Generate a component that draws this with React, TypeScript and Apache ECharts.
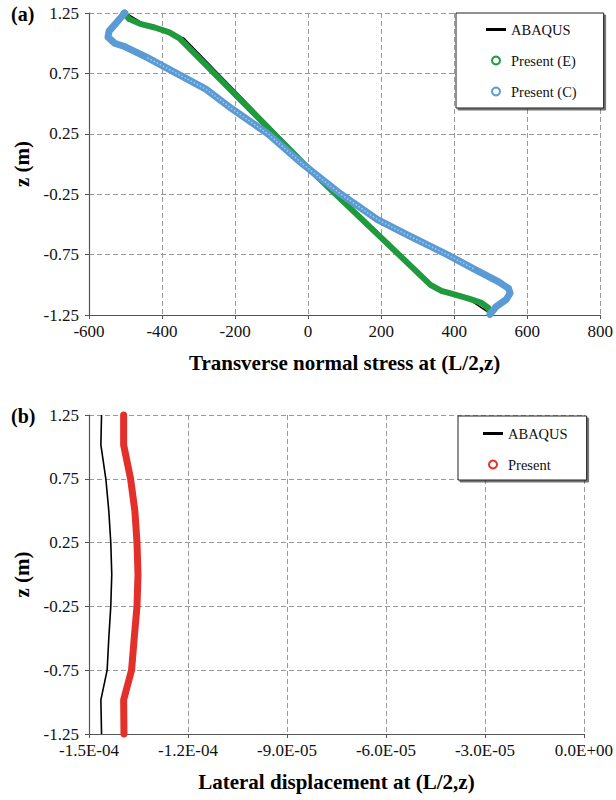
import React, { useEffect, useRef } from "react";
import * as echarts from "echarts";

// ---------- Panel (a): transverse normal stress at (L/2, z) ----------
const zTicks = [-1.25, -0.75, -0.25, 0.25, 0.75, 1.25];
const stressTicks = [-600, -400, -200, 0, 200, 400, 600, 800];

const abaqusA_stress = [-500, -455, -415, -340, -5, 340, 430, 495];
const abaqusA_z = [1.25, 1.17, 1.13, 1.04, 0, -1.02, -1.1, -1.23];

const presentE_stress = [-505, -490, -460, -420, -380, -352, -11, 335, 365, 400, 440, 475, 493, 498];
const presentE_z = [1.25, 1.2, 1.16, 1.13, 1.09, 1.04, 0, -1.0, -1.05, -1.08, -1.115, -1.15, -1.19, -1.23];

const presentC_stress = [-502, -522, -545, -548, -530, -505, -440, -360, -280, -210, -110, -15, 90, 190, 280, 381, 455, 522, 549, 553, 543, 515, 498];
const presentC_z = [1.25, 1.18, 1.1, 1.05, 1.0, 0.975, 0.88, 0.75, 0.62, 0.46, 0.25, 0, -0.25, -0.46, -0.6, -0.75, -0.87, -0.975, -1.03, -1.07, -1.12, -1.18, -1.245];

// ---------- Panel (b): lateral displacement at (L/2, z) ----------
const dispTicks = [-1.5e-4, -1.2e-4, -9.0e-5, -6.0e-5, -3.0e-5, 0];
const zB = [1.25, 1.015, 0.75, 0.5, 0.25, 0, -0.25, -0.5, -0.75, -0.983, -1.25];
const abaqusB_disp = [-1.462e-4, -1.464e-4, -1.449e-4, -1.44e-4, -1.434e-4, -1.431e-4, -1.434e-4, -1.44e-4, -1.445e-4, -1.464e-4, -1.462e-4];
const presentB_disp = [-1.395e-4, -1.395e-4, -1.374e-4, -1.361e-4, -1.3545e-4, -1.3515e-4, -1.3545e-4, -1.363e-4, -1.371e-4, -1.395e-4, -1.394e-4];

const FONT = "'Liberation Serif', 'DejaVu Serif', serif";
const GREEN = "#1f9a3c";
const BLUE = "#5b9bd5";
const RED = "#e4302a";
const GRID_COLOR = "#9a9a9a";
const AXIS_COLOR = "#555";
const LINE_ICON = "path://M0 0H20V3H0Z";

const pair = (xs: number[], ys: number[]) => xs.map((x, i) => [x, ys[i]]);

const fmtE = (v: number) => {
  if (Math.abs(v) < 1e-12) return "0.0E+00";
  const [m, e] = v.toExponential(1).split("e");
  const en = parseInt(e, 10);
  return m + "E" + (en < 0 ? "-" : "+") + String(Math.abs(en)).padStart(2, "0");
};

const tickLabel = { fontFamily: FONT, fontSize: 17, color: "#111" };
const nameStyle = { fontFamily: FONT, fontSize: 21, fontWeight: "bold" as const, color: "#000" };
const splitLine = { show: true, lineStyle: { color: GRID_COLOR, type: [5, 3] as any, width: 1 } };
const axisLine = { show: true, onZero: false, lineStyle: { color: AXIS_COLOR, width: 1.2 } };
const axisTick = { show: true, inside: false, length: 4, lineStyle: { color: AXIS_COLOR } };

const legendBase = {
  orient: "vertical" as const,
  itemGap: 16,
  itemWidth: 20,
  itemHeight: 8,
  backgroundColor: "#fff",
  borderColor: "#222",
  borderWidth: 1,
  shadowColor: "rgba(0,0,0,0.55)",
  shadowOffsetX: 2,
  shadowOffsetY: 2,
  shadowBlur: 1,
  selectedMode: false,
  textStyle: { fontFamily: FONT, fontSize: 14.5, color: "#111" },
};

export default function App() {
  const ref = useRef<HTMLDivElement>(null);

  useEffect(() => {
    document.body.style.margin = "0";
    if (!ref.current) return;
    const chart = echarts.init(ref.current, undefined, { renderer: "svg" });

    const dataC = pair(presentC_stress, presentC_z);
    const textureC = dataC.filter((p) => Math.abs(p[1]) < 0.96);

    chart.setOption({
      animation: false,
      backgroundColor: "#fff",
      graphic: [
        { type: "text", left: 11, top: 4, style: { text: "(a)", font: `bold 20px ${FONT}`, fill: "#000" } },
        { type: "text", left: 11, top: 406, style: { text: "(b)", font: `bold 20px ${FONT}`, fill: "#000" } },
      ],
      grid: [
        { left: 89, top: 13, width: 515, height: 302 },
        { left: 89, top: 415, width: 498, height: 319 },
      ],
      xAxis: [
        {
          type: "value", gridIndex: 0,
          min: stressTicks[0], max: stressTicks[stressTicks.length - 1], interval: 200,
          name: "Transverse normal stress at (L/2,z)", nameLocation: "middle", nameGap: 37, nameTextStyle: nameStyle,
          axisLine, axisTick, splitLine,
          axisLabel: { ...tickLabel, margin: 8 },
        },
        {
          type: "value", gridIndex: 1,
          min: dispTicks[0], max: dispTicks[dispTicks.length - 1], interval: 3e-5,
          name: "Lateral displacement at (L/2,z)", nameLocation: "middle", nameGap: 37, nameTextStyle: nameStyle,
          axisLine, axisTick, splitLine,
          axisLabel: { ...tickLabel, margin: 8, formatter: fmtE },
        },
      ],
      yAxis: [0, 1].map((gi) => ({
        type: "value", gridIndex: gi,
        min: zTicks[0], max: zTicks[zTicks.length - 1], interval: 0.5,
        name: "z (m)", nameLocation: "middle", nameGap: 57, nameRotate: 90, nameTextStyle: nameStyle,
        axisLine, axisTick, splitLine,
        axisLabel: { ...tickLabel, margin: 10, formatter: (v: number) => v.toFixed(2) },
      })),
      legend: [
        {
          ...legendBase,
          left: 456, top: 13,
          padding: [9, 27, 9, 30],
          data: [
            { name: "ABAQUS", icon: LINE_ICON, itemStyle: { color: "#000", borderWidth: 0 } },
            { name: "Present (E)", icon: "circle", itemStyle: { color: "#fff", borderColor: GREEN, borderWidth: 2 } },
            { name: "Present (C)", icon: "circle", itemStyle: { color: "#fff", borderColor: BLUE, borderWidth: 2 } },
          ],
        },
        {
          ...legendBase,
          left: 458, top: 416,
          padding: [10, 19, 8, 25],
          data: [
            { name: "ABAQUS", icon: LINE_ICON, itemStyle: { color: "#000", borderWidth: 0 } },
            { name: "Present", icon: "circle", itemStyle: { color: "#fff", borderColor: RED, borderWidth: 2 } },
          ],
        },
      ],
      series: [
        {
          name: "ABAQUS", type: "line", xAxisIndex: 0, yAxisIndex: 0, symbol: "none", clip: false, z: 2,
          data: pair(abaqusA_stress, abaqusA_z),
          itemStyle: { color: "#000" }, lineStyle: { color: "#000", width: 1.6 },
        },
        {
          name: "Present (E)", type: "line", xAxisIndex: 0, yAxisIndex: 0, symbol: "none", clip: false, z: 3,
          data: pair(presentE_stress, presentE_z),
          itemStyle: { color: GREEN }, lineStyle: { color: GREEN, width: 6, cap: "round", join: "round" },
        },
        {
          name: "Present (C)", type: "line", xAxisIndex: 0, yAxisIndex: 0, symbol: "none", clip: false, z: 4,
          data: dataC,
          itemStyle: { color: BLUE }, lineStyle: { color: BLUE, width: 7, cap: "round", join: "round" },
        },
        {
          name: "texture", type: "line", xAxisIndex: 0, yAxisIndex: 0, symbol: "none", clip: false, z: 5, silent: true,
          data: textureC,
          lineStyle: { color: "rgba(255,255,255,0.45)", width: 1.6, type: [1.5, 2] },
        },
        {
          name: "ABAQUS", type: "line", xAxisIndex: 1, yAxisIndex: 1, symbol: "none", clip: false, z: 2,
          data: pair(abaqusB_disp, zB),
          itemStyle: { color: "#000" }, lineStyle: { color: "#000", width: 1.6 },
        },
        {
          name: "Present", type: "line", xAxisIndex: 1, yAxisIndex: 1, symbol: "none", clip: false, z: 3,
          data: pair(presentB_disp, zB),
          itemStyle: { color: RED }, lineStyle: { color: RED, width: 7, cap: "round", join: "round" },
        },
      ],
    });

    return () => chart.dispose();
  }, []);

  return <div ref={ref} style={{ width: 616, height: 800 }} />;
}
